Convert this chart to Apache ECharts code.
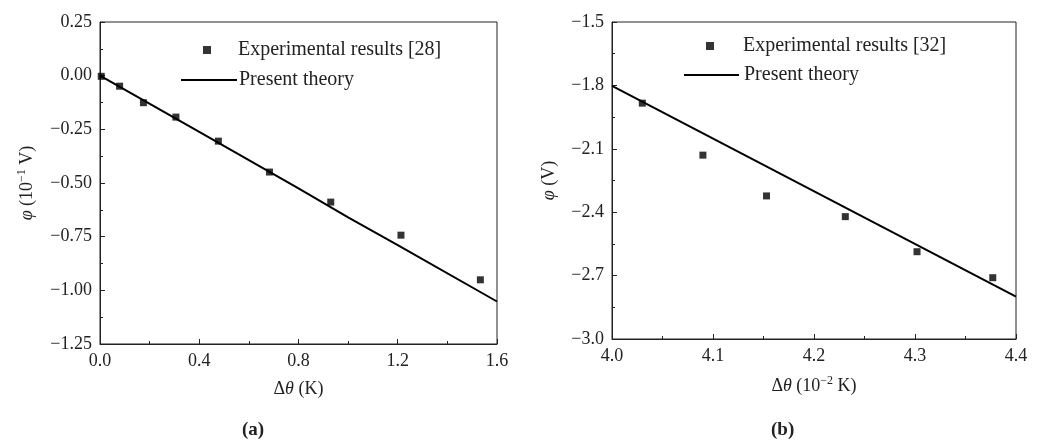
<!DOCTYPE html>
<html lang="en">
<head>
    <meta charset="UTF-8">
    <title>Potential vs temperature difference</title>
    <script src="https://cdn.jsdelivr.net/npm/echarts@6/dist/echarts.min.js"></script>
    <style>
        html, body { margin: 0; padding: 0; background: #fff; }
    </style>
</head>
<body>
<div id="main" style="width:1050px;height:441px;"></div>
<script>
    // (a) experimental points [28] and present theory
    const expXA = [0.005, 0.079, 0.175, 0.306, 0.477, 0.683, 0.930, 1.213, 1.533];
    const expYA = [-0.003, -0.049, -0.126, -0.193, -0.305, -0.449, -0.589, -0.743, -0.951];
    const theoryXA = [0, 0.4, 0.8, 1.0, 1.2, 1.6];
    const theoryYA = [0, -0.262, -0.525, -0.660, -0.789, -1.052];

    // (b) experimental points [32] and present theory
    const expXB = [4.030, 4.090, 4.153, 4.231, 4.302, 4.377];
    const expYB = [-1.884, -2.130, -2.323, -2.421, -2.587, -2.710];
    const theoryXB = [4.0, 4.4];
    const theoryYB = [-1.802, -2.800];

    const legendA = ['Experimental results [28]', 'Present theory'];
    const legendB = ['Experimental results [32]', 'Present theory '];

    const FONT = 'Liberation Serif';
    const minus = s => s.replace('-', '\u2212');

    const pairs = (xs, ys) => xs.map((x, i) => [x, ys[i]]);

    const axisCommon = {
        type: 'value',
        axisLine: { show: true, onZero: false, lineStyle: { color: '#222', width: 1 } },
        axisTick: { show: true, inside: true, length: 5, lineStyle: { color: '#222' } },
        minorTick: { show: true, splitNumber: 2, length: 3, lineStyle: { color: '#222' } },
        splitLine: { show: false },
        axisLabel: { color: '#222', fontFamily: FONT, fontSize: 18, margin: 8 },
        nameTextStyle: { color: '#222', fontFamily: FONT, fontSize: 18 }
    };

    const richName = {
        i: { fontFamily: FONT, fontSize: 18, fontStyle: 'italic', color: '#222' },
        s: { fontFamily: FONT, fontSize: 12, color: '#222', verticalAlign: 'top', lineHeight: 22 }
    };

    const legendText = pad => ({ fontFamily: FONT, fontSize: 20, color: '#222', padding: [0, 0, 0, pad] });

    let myChart = echarts.init(document.getElementById('main'));

    let option = {
        backgroundColor: '#fff',
        animation: false,
        title: [
            {
                text: '{p|(}{b|a}{p|)}', left: 237, top: 416,
                textStyle: { rich: { p: { fontFamily: FONT, fontSize: 19, color: '#222' }, b: { fontFamily: FONT, fontSize: 19, fontWeight: 'bold', color: '#222' } } }
            },
            {
                text: '{p|(}{b|b}{p|)}', left: 766, top: 416,
                textStyle: { rich: { p: { fontFamily: FONT, fontSize: 19, color: '#222' }, b: { fontFamily: FONT, fontSize: 19, fontWeight: 'bold', color: '#222' } } }
            }
        ],
        grid: [
            { left: 100, top: 22, width: 397, height: 322, show: true, borderColor: '#222', borderWidth: 1 },
            { left: 612, top: 22, width: 404, height: 317, show: true, borderColor: '#222', borderWidth: 1 }
        ],
        legend: [
            {
                data: [legendA[0]], left: 203, top: 40, padding: 0, itemWidth: 8, itemHeight: 8, icon: 'rect',
                textStyle: legendText(22)
            },
            {
                data: [legendA[1]], left: 180, top: 70, padding: 0, itemWidth: 56, itemHeight: 14,
                itemStyle: { opacity: 0 }, textStyle: legendText(-3)
            },
            {
                data: [legendB[0]], left: 706, top: 36, padding: 0, itemWidth: 8, itemHeight: 8, icon: 'rect',
                textStyle: legendText(24)
            },
            {
                data: [legendB[1]], left: 683, top: 65, padding: 0, itemWidth: 55, itemHeight: 14,
                itemStyle: { opacity: 0 }, textStyle: legendText(0)
            }
        ],
        xAxis: [
            Object.assign({}, axisCommon, {
                gridIndex: 0, min: 0, max: 1.6, interval: 0.4,
                axisLabel: Object.assign({}, axisCommon.axisLabel, { formatter: v => v.toFixed(1) }),
                name: '\u0394{i|\u03b8} (K)', nameLocation: 'middle', nameGap: 36,
                nameTextStyle: Object.assign({}, axisCommon.nameTextStyle, { rich: richName })
            }),
            Object.assign({}, axisCommon, {
                gridIndex: 1, min: 4.0, max: 4.4, interval: 0.1,
                axisLabel: Object.assign({}, axisCommon.axisLabel, { formatter: v => v.toFixed(1) }),
                name: '\u0394{i|\u03b8} (10{s|\u22122} K)', nameLocation: 'middle', nameGap: 36,
                nameTextStyle: Object.assign({}, axisCommon.nameTextStyle, { rich: richName })
            })
        ],
        yAxis: [
            Object.assign({}, axisCommon, {
                gridIndex: 0, min: -1.25, max: 0.25, interval: 0.25,
                axisLabel: Object.assign({}, axisCommon.axisLabel, { formatter: v => minus(v.toFixed(2)) }),
                name: '{i|\u03c6} (10{s|\u22121} V)', nameLocation: 'middle', nameGap: 62,
                nameTextStyle: Object.assign({}, axisCommon.nameTextStyle, { rich: richName })
            }),
            Object.assign({}, axisCommon, {
                gridIndex: 1, min: -3.0, max: -1.5, interval: 0.3,
                axisLabel: Object.assign({}, axisCommon.axisLabel, { formatter: v => minus(v.toFixed(1)) }),
                name: '{i|\u03c6} (V)', nameLocation: 'middle', nameGap: 54,
                nameTextStyle: Object.assign({}, axisCommon.nameTextStyle, { rich: richName })
            })
        ],
        series: [
            {
                name: legendA[0], type: 'scatter', xAxisIndex: 0, yAxisIndex: 0,
                symbol: 'rect', symbolSize: 7, itemStyle: { color: '#000' },
                data: pairs(expXA, expYA), z: 3
            },
            {
                name: legendA[1], type: 'line', xAxisIndex: 0, yAxisIndex: 0,
                showSymbol: false, symbol: 'none', lineStyle: { color: '#000', width: 2 }, itemStyle: { color: '#000' },
                data: pairs(theoryXA, theoryYA)
            },
            {
                name: legendB[0], type: 'scatter', xAxisIndex: 1, yAxisIndex: 1,
                symbol: 'rect', symbolSize: 7, itemStyle: { color: '#000' },
                data: pairs(expXB, expYB), z: 3
            },
            {
                name: legendB[1], type: 'line', xAxisIndex: 1, yAxisIndex: 1,
                showSymbol: false, symbol: 'none', lineStyle: { color: '#000', width: 2 }, itemStyle: { color: '#000' },
                data: pairs(theoryXB, theoryYB)
            }
        ]
    };

    myChart.setOption(option);
</script>
</body>
</html>
